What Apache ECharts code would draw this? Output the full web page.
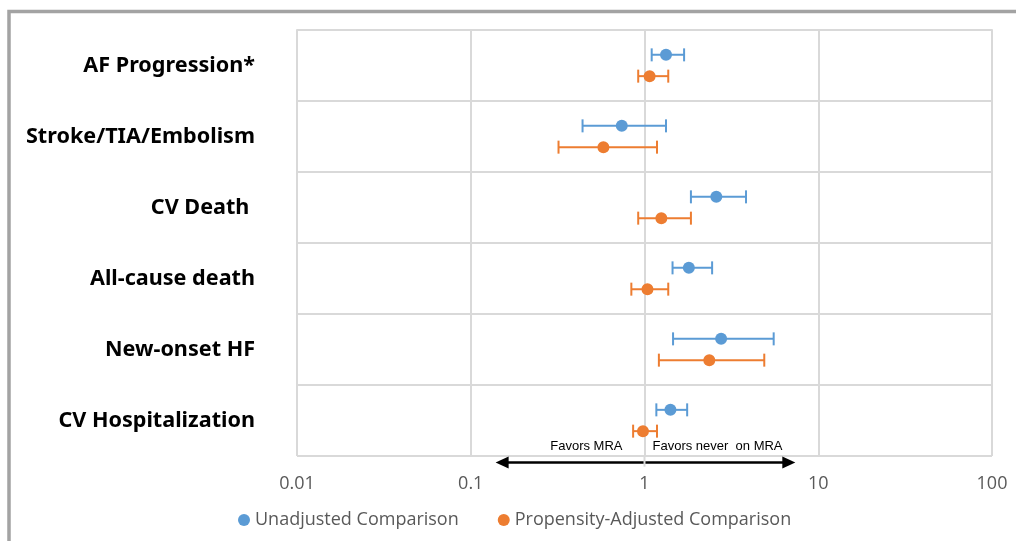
<!DOCTYPE html>
<html>
<head>
<meta charset="utf-8">
<script src="https://cdn.jsdelivr.net/npm/echarts@6/dist/echarts.min.js"></script>
<style>
html,body{margin:0;padding:0;background:#fff;}
#chart{width:1016px;height:541px;}
</style>
</head>
<body>
<div id="chart"></div>
<script>
// ---- data ----
const outcomes = ["AF Progression*", "Stroke/TIA/Embolism", "CV Death ", "All-cause death", "New-onset HF", "CV Hospitalization"];
const seriesNames = ["Unadjusted Comparison", "Propensity-Adjusted Comparison"];
const unadjEst  = [1.33, 0.74, 2.59, 1.80, 2.76, 1.41];
const unadjLow  = [1.10, 0.44, 1.85, 1.45, 1.46, 1.17];
const unadjHigh = [1.69, 1.33, 3.84, 2.45, 5.54, 1.76];
const adjEst    = [1.07, 0.58, 1.25, 1.04, 2.36, 0.98];
const adjLow    = [0.92, 0.32, 0.92, 0.84, 1.21, 0.86];
const adjHigh   = [1.37, 1.18, 1.85, 1.37, 4.89, 1.18];
const xTickLabels = ["0.01", "0.1", "1", "10", "100"];
const arrowRange = [0.139, 7.38];
const favorLabels = ["Favors MRA", "Favors never  on MRA"];

const colors = ["#5B9BD5", "#ED7D31"];
const rowOffset = 0.15;

function pts(est, low, high, off) {
  return est.map((v, i) => [v, i + 0.5 + off, low[i], high[i]]);
}
const unadjData = pts(unadjEst, unadjLow, unadjHigh, -rowOffset);
const adjData = pts(adjEst, adjLow, adjHigh, rowOffset);

function errRender(color) {
  return function (params, api) {
    const y = api.value(1);
    const p1 = api.coord([api.value(2), y]);
    const p2 = api.coord([api.value(3), y]);
    const h = 6.5;
    const st = { stroke: color, lineWidth: 2 };
    return {
      type: 'group',
      children: [
        { type: 'line', shape: { x1: p1[0], y1: p1[1], x2: p2[0], y2: p2[1] }, style: st },
        { type: 'line', shape: { x1: p1[0], y1: p1[1] - h, x2: p1[0], y2: p1[1] + h }, style: st },
        { type: 'line', shape: { x1: p2[0], y1: p2[1] - h, x2: p2[0], y2: p2[1] + h }, style: st }
      ]
    };
  };
}

const chart = echarts.init(document.getElementById('chart'), null, { renderer: 'canvas' });
const option = {
  backgroundColor: '#fff',
  animation: false,
  graphic: [{
    type: 'rect', silent: true,
    shape: { x: 9, y: 11.5, width: 1100, height: 600 },
    style: { fill: 'none', stroke: '#A3A3A3', lineWidth: 3.5 }
  }],
  grid: { left: 297, right: 24, top: 30, height: 426, containLabel: false },
  legend: {
    data: seriesNames.map(n => ({ name: n, icon: 'circle' })),
    left: 233, top: 506,
    itemWidth: 12, itemHeight: 12, itemGap: 39,
    textStyle: { color: '#595959', fontSize: 18, fontFamily: 'Open Sans' }
  },
  xAxis: {
    type: 'log', logBase: 10, min: 0.01, max: 100,
    axisLine: { show: true, lineStyle: { color: '#D9D9D9', width: 2 } },
    axisTick: { show: false },
    splitLine: { show: true, lineStyle: { color: '#D9D9D9', width: 2 } },
    minorTick: { show: false },
    axisLabel: {
      margin: 19, color: '#595959', fontSize: 18, fontFamily: 'Open Sans',
      formatter: (v, i) => xTickLabels[i] !== undefined ? xTickLabels[i] : ''
    }
  },
  yAxis: [{
    type: 'category', data: outcomes, inverse: true,
    axisLine: { show: false }, axisTick: { show: false },
    splitLine: { show: true, lineStyle: { color: '#D9D9D9', width: 2 } },
    axisLabel: {
      margin: 42, color: '#000', fontSize: 21.6, fontWeight: 'bold',
      fontFamily: 'Noto Sans', verticalAlign: 'middle', padding: [0, 0, 9, 0]
    }
  }, {
    type: 'value', min: 0, max: 6, inverse: true, show: false,
    splitLine: { show: false }
  }],
  series: [
    {
      name: seriesNames[0], type: 'custom', yAxisIndex: 1, clip: false,
      renderItem: errRender(colors[0]), data: unadjData, z: 2,
      encode: { x: [0, 2, 3], y: 1 }, itemStyle: { color: colors[0] }
    },
    {
      name: seriesNames[1], type: 'custom', yAxisIndex: 1, clip: false,
      renderItem: errRender(colors[1]), data: adjData, z: 2,
      encode: { x: [0, 2, 3], y: 1 }, itemStyle: { color: colors[1] }
    },
    {
      name: seriesNames[0], type: 'scatter', yAxisIndex: 1, data: unadjData,
      symbol: 'circle', symbolSize: 12, itemStyle: { color: colors[0], opacity: 1 }, z: 3
    },
    {
      name: seriesNames[1], type: 'scatter', yAxisIndex: 1, data: adjData,
      symbol: 'circle', symbolSize: 12, itemStyle: { color: colors[1], opacity: 1 }, z: 3
    },
    {
      name: 'annot', type: 'custom', yAxisIndex: 1, clip: false, silent: true, z: 4,
      data: [[arrowRange[0], 6.09, arrowRange[1]]],
      renderItem: function (params, api) {
        const y = api.value(1);
        const a = api.coord([api.value(0), y]);
        const b = api.coord([api.value(2), y]);
        const one = api.coord([1, 6]);
        const oneLow = api.coord([1, 6.15]);
        const txt = api.coord([1, 5.87]);
        const hl = 13, hw = 6;
        return {
          type: 'group',
          children: [
            { type: 'line', shape: { x1: a[0] + hl - 1, y1: a[1], x2: b[0] - hl + 1, y2: b[1] },
              style: { stroke: '#000', lineWidth: 2.5 } },
            { type: 'polygon', shape: { points: [[a[0], a[1]], [a[0] + hl, a[1] - hw], [a[0] + hl, a[1] + hw]] },
              style: { fill: '#000' } },
            { type: 'polygon', shape: { points: [[b[0], b[1]], [b[0] - hl, b[1] - hw], [b[0] - hl, b[1] + hw]] },
              style: { fill: '#000' } },
            { type: 'line', shape: { x1: one[0], y1: one[1], x2: oneLow[0], y2: oneLow[1] },
              style: { stroke: '#D9D9D9', lineWidth: 2 } },
            { type: 'text', x: txt[0] - 22, y: txt[1],
              style: { text: favorLabels[0], align: 'right', verticalAlign: 'middle',
                       font: '13px "Liberation Sans"', fill: '#000' } },
            { type: 'text', x: txt[0] + 8, y: txt[1],
              style: { text: favorLabels[1], align: 'left', verticalAlign: 'middle',
                       font: '13px "Liberation Sans"', fill: '#000' } }
          ]
        };
      }
    }
  ]
};
chart.setOption(option);
</script>
</body>
</html>
